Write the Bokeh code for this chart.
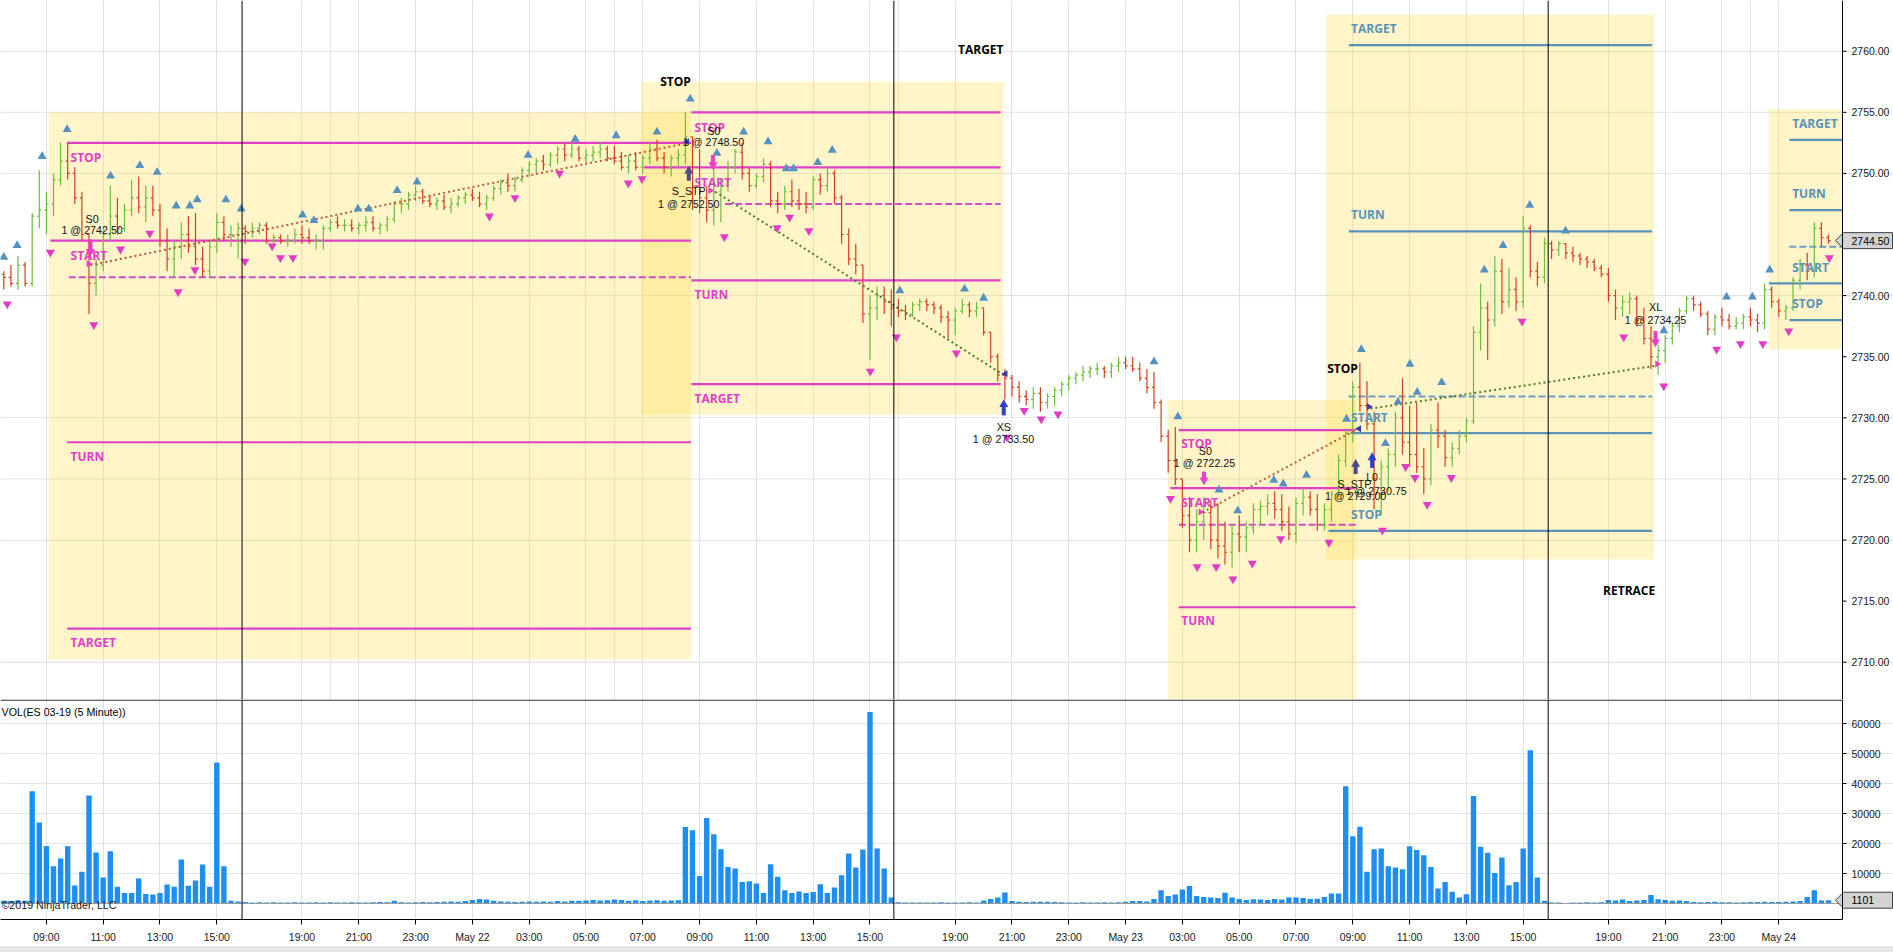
import numpy as np
from bokeh.plotting import figure
from bokeh.layouts import column
from bokeh.models import Range1d, FixedTicker, Span, ColumnDataSource, Grid, Div
from bokeh.core.properties import value
from bokeh.embed import file_html
from bokeh.resources import INLINE

# ---------------- data (x = trading hours from 09:00 May 21, session gaps removed) ----------------
TICK_H = [0, 2, 4, 6, 9, 11, 13, 15, 17, 19, 21, 23, 25, 27, 29, 32, 34, 36, 38, 40, 42, 44, 46, 48,
          50, 52, 55, 57, 59, 61]
TICK_LABELS = ["09:00", "11:00", "13:00", "15:00", "19:00", "21:00", "23:00", "May 22", "03:00",
               "05:00", "07:00", "09:00", "11:00", "13:00", "15:00", "19:00", "21:00", "23:00",
               "May 23", "03:00", "05:00", "07:00", "09:00", "11:00", "13:00", "15:00", "19:00",
               "21:00", "23:00", "May 24"]
SESSION_BREAKS = [6.89, 29.84, 52.88]
PRICE_TICKS = [2710, 2715, 2720, 2725, 2730, 2735, 2740, 2745, 2750, 2755, 2760]
PRICE_GRID = [2710, 2725, 2740, 2755]
VOL_TICKS = [10000, 20000, 30000, 40000, 50000, 60000]
VOL_GRID = [30000, 60000]

BAR_START_H = -1.5
BAR_STEP_H = 0.25
FIRST_OPEN = 2741.75
BAR_HIGH = [
    2742.0, 2742.5, 2743.25, 2742.75, 2746.75, 2750.25, 2748.5, 2750.0, 2752.5, 2752.5,
    2750.5, 2748.5, 2745.0, 2743.0, 2745.5, 2749.0, 2748.0, 2747.5, 2749.5, 2749.75,
    2749.0, 2749.0, 2747.5, 2745.5, 2744.5, 2746.0, 2746.5, 2746.75, 2744.0, 2744.5,
    2746.75, 2746.5, 2745.75, 2746.0, 2745.75, 2746.0, 2746.0, 2746.0, 2745.0, 2745.0,
    2745.0, 2745.5, 2745.75, 2745.5, 2745.0, 2745.75, 2746.25, 2746.5, 2746.25, 2746.25,
    2746.0, 2746.5, 2746.5, 2746.0, 2746.5, 2747.75, 2748.0, 2748.5, 2749.0, 2748.75,
    2748.25, 2748.0, 2748.25, 2748.0, 2748.25, 2748.5, 2748.75, 2748.5, 2748.25, 2749.0,
    2749.5, 2750.0, 2749.75, 2750.5, 2751.0, 2751.25, 2751.5, 2751.75, 2752.25, 2752.5,
    2752.5, 2752.25, 2752.0, 2752.25, 2752.5, 2752.25, 2752.25, 2751.75, 2751.5, 2751.75,
    2751.5, 2752.5, 2752.75, 2751.75, 2751.5, 2752.0, 2755.0, 2753.0, 2752.0, 2749.0,
    2751.0, 2749.5, 2751.0, 2752.0, 2752.5, 2750.5, 2750.0, 2751.25, 2751.0, 2748.5,
    2749.0, 2749.5, 2748.75, 2748.5, 2749.75, 2750.0, 2750.5, 2750.25, 2748.25, 2745.5,
    2744.25, 2741.5, 2740.0, 2740.75, 2740.75, 2740.5, 2739.75, 2739.25, 2739.5, 2739.75,
    2739.75, 2739.5, 2739.25, 2738.75, 2739.0, 2739.75, 2739.5, 2739.5, 2739.0, 2737.0,
    2735.25, 2734.0, 2733.5, 2733.0, 2732.25, 2732.5, 2732.5, 2732.0, 2732.5, 2733.0,
    2733.5, 2733.75, 2734.25, 2734.25, 2734.5, 2734.25, 2734.5, 2735.0, 2735.0, 2735.0,
    2734.5, 2734.0, 2733.75, 2731.5, 2729.0, 2729.25, 2725.0, 2723.5, 2722.5, 2723.5,
    2723.25, 2723.0, 2721.5, 2721.25, 2722.0, 2721.5, 2723.0, 2723.25, 2723.75, 2724.0,
    2723.75, 2722.75, 2723.5, 2724.25, 2724.0, 2723.75, 2723.0, 2724.0, 2727.0, 2729.0,
    2733.0, 2734.5, 2733.0, 2730.5, 2726.5, 2727.5, 2730.5, 2733.25, 2731.0, 2731.25,
    2727.5, 2729.5, 2731.25, 2729.0, 2728.0, 2729.0, 2730.0, 2737.5, 2741.0, 2739.5,
    2743.25, 2743.0, 2742.25, 2741.5, 2746.5, 2745.75, 2742.75, 2744.75, 2744.5, 2744.5,
    2744.25, 2744.0, 2743.5, 2743.25, 2743.0, 2742.5, 2742.25, 2740.5, 2740.0, 2740.25,
    2740.0, 2739.0, 2737.5, 2736.0, 2736.75, 2737.75, 2739.0, 2740.0, 2740.0, 2739.5,
    2738.75, 2738.5, 2739.0, 2738.5, 2738.25, 2738.5, 2739.0, 2738.5, 2741.0, 2740.75,
    2739.75, 2739.25, 2741.5, 2743.0, 2743.5, 2746.0, 2746.0, 2745.0]
BAR_LOW = [
    2740.5, 2740.75, 2740.5, 2740.75, 2740.75, 2745.5, 2745.0, 2746.5, 2749.0, 2749.5,
    2747.5, 2744.5, 2738.5, 2740.0, 2742.0, 2744.5, 2745.0, 2745.25, 2746.5, 2746.75,
    2746.0, 2746.5, 2744.0, 2742.0, 2741.5, 2743.0, 2743.5, 2742.5, 2741.5, 2741.5,
    2743.5, 2744.5, 2744.0, 2743.0, 2744.25, 2744.75, 2745.0, 2744.25, 2744.25, 2744.25,
    2744.0, 2744.25, 2744.25, 2744.25, 2743.75, 2743.75, 2745.25, 2745.5, 2745.25, 2745.25,
    2745.0, 2745.25, 2745.25, 2745.0, 2745.25, 2746.0, 2746.75, 2747.0, 2747.75, 2747.5,
    2747.25, 2747.0, 2747.0, 2746.75, 2747.25, 2747.5, 2747.75, 2747.25, 2747.0, 2747.75,
    2748.25, 2748.5, 2748.5, 2749.25, 2749.75, 2750.0, 2750.25, 2750.5, 2750.75, 2751.0,
    2751.25, 2751.0, 2750.75, 2751.0, 2751.25, 2751.0, 2750.75, 2750.25, 2750.0, 2750.25,
    2750.0, 2750.75, 2751.0, 2750.0, 2749.75, 2750.5, 2750.75, 2747.0, 2746.75, 2746.0,
    2745.75, 2746.0, 2748.5, 2750.0, 2749.5, 2748.5, 2748.75, 2749.25, 2747.25, 2746.75,
    2747.0, 2747.25, 2747.0, 2746.75, 2747.0, 2748.25, 2748.5, 2747.5, 2744.25, 2742.5,
    2741.75, 2737.75, 2734.75, 2738.0, 2738.5, 2737.5, 2738.25, 2738.0, 2738.25, 2738.75,
    2738.75, 2738.5, 2737.75, 2736.5, 2736.75, 2738.5, 2738.25, 2738.25, 2736.75, 2734.5,
    2733.0, 2731.5, 2731.75, 2731.25, 2731.0, 2730.75, 2730.5, 2730.75, 2731.0, 2731.75,
    2732.25, 2732.75, 2733.0, 2733.25, 2733.5, 2733.25, 2733.25, 2733.75, 2734.0, 2733.75,
    2733.0, 2732.0, 2730.75, 2728.0, 2725.5, 2724.5, 2721.0, 2719.0, 2719.0, 2720.0,
    2719.25, 2718.5, 2718.0, 2717.75, 2719.0, 2719.0, 2720.5, 2721.25, 2722.0, 2721.75,
    2720.75, 2720.0, 2719.75, 2722.0, 2722.0, 2720.75, 2720.75, 2721.5, 2723.5, 2726.0,
    2728.0, 2730.5, 2729.0, 2722.5, 2722.0, 2724.0, 2726.0, 2727.0, 2726.0, 2725.5,
    2723.75, 2724.5, 2727.5, 2726.0, 2726.0, 2727.0, 2728.0, 2729.5, 2735.5, 2734.75,
    2737.5, 2738.5, 2739.0, 2738.75, 2739.0, 2741.5, 2740.75, 2741.0, 2743.0, 2743.25,
    2743.0, 2742.75, 2742.5, 2742.25, 2742.0, 2741.5, 2739.5, 2738.0, 2738.25, 2738.5,
    2737.5, 2736.0, 2734.0, 2733.5, 2734.5, 2736.0, 2737.0, 2738.5, 2738.75, 2738.25,
    2736.75, 2736.75, 2737.5, 2737.25, 2737.25, 2737.25, 2737.5, 2737.0, 2737.25, 2739.0,
    2738.25, 2738.0, 2738.75, 2740.5, 2741.25, 2741.5, 2744.0, 2744.25]
BAR_CLOSE = [
    2741.5, 2741.0, 2742.5, 2741.0, 2746.5, 2747.0, 2747.5, 2749.5, 2751.0, 2750.0,
    2748.0, 2745.0, 2741.0, 2742.5, 2745.0, 2746.5, 2745.5, 2747.0, 2748.0, 2747.25,
    2748.0, 2747.0, 2744.5, 2743.0, 2744.0, 2745.0, 2744.0, 2743.0, 2742.0, 2744.0,
    2746.0, 2745.0, 2745.0, 2745.5, 2745.25, 2745.5, 2745.75, 2744.5, 2744.75, 2744.5,
    2744.5, 2745.0, 2744.75, 2744.5, 2744.5, 2745.5, 2746.0, 2745.75, 2745.75, 2745.5,
    2745.75, 2746.0, 2745.5, 2745.75, 2746.25, 2747.5, 2747.5, 2748.25, 2748.5, 2747.75,
    2747.5, 2747.75, 2747.25, 2747.5, 2748.0, 2748.25, 2748.0, 2747.5, 2748.0, 2748.75,
    2749.25, 2749.0, 2749.5, 2750.25, 2750.75, 2751.0, 2750.75, 2751.5, 2752.0, 2751.5,
    2752.0, 2751.25, 2751.5, 2751.75, 2752.0, 2751.25, 2751.0, 2750.5, 2751.0, 2750.5,
    2751.25, 2752.0, 2751.25, 2750.5, 2751.25, 2751.5, 2753.0, 2749.0, 2748.0, 2747.0,
    2748.5, 2749.0, 2750.5, 2751.75, 2750.0, 2749.0, 2749.75, 2750.75, 2747.75, 2747.5,
    2748.5, 2747.75, 2747.5, 2747.25, 2749.5, 2749.0, 2750.0, 2748.0, 2745.0, 2743.0,
    2742.5, 2738.5, 2739.0, 2740.0, 2739.5, 2739.0, 2738.75, 2738.5, 2739.25, 2739.5,
    2739.25, 2739.0, 2738.25, 2738.0, 2738.75, 2739.25, 2738.75, 2739.0, 2737.0, 2735.0,
    2733.5, 2733.25, 2732.5, 2731.75, 2731.5, 2732.0, 2731.25, 2731.75, 2732.25, 2732.75,
    2733.25, 2733.5, 2733.75, 2734.0, 2734.0, 2733.75, 2734.25, 2734.5, 2734.25, 2734.0,
    2733.25, 2732.5, 2731.25, 2728.5, 2726.5, 2725.0, 2722.0, 2720.0, 2721.5, 2722.25,
    2720.0, 2719.5, 2719.0, 2720.5, 2720.25, 2721.0, 2722.5, 2722.75, 2723.0, 2722.5,
    2721.5, 2720.5, 2723.0, 2723.5, 2722.5, 2721.25, 2722.5, 2723.75, 2726.5, 2728.75,
    2732.5, 2731.0, 2729.5, 2725.0, 2726.0, 2727.0, 2730.0, 2728.0, 2727.0, 2726.0,
    2725.0, 2729.0, 2728.5, 2726.75, 2727.5, 2728.5, 2729.75, 2737.0, 2739.0, 2738.0,
    2742.0, 2739.5, 2740.5, 2739.5, 2745.5, 2742.0, 2741.5, 2744.25, 2743.75, 2744.25,
    2743.5, 2743.25, 2743.0, 2742.75, 2742.25, 2741.75, 2740.0, 2739.0, 2739.5, 2739.75,
    2738.0, 2736.5, 2735.0, 2735.5, 2736.5, 2737.5, 2738.75, 2739.75, 2739.25, 2738.5,
    2737.25, 2738.25, 2738.0, 2737.5, 2737.75, 2738.25, 2738.0, 2737.75, 2740.5, 2739.5,
    2738.75, 2739.0, 2741.25, 2742.5, 2742.0, 2745.5, 2744.75, 2744.5]
VOLUME = [
    900, 800, 1100, 900, 37400, 27000, 19200, 12400, 15000, 19100,
    6000, 10600, 36000, 17000, 8700, 17400, 5600, 3500, 3500, 8300,
    3200, 3000, 3500, 6300, 5600, 14700, 5900, 7700, 13000, 5600,
    47000, 12400, 900, 700, 500, 300, 400, 300, 400, 300,
    300, 400, 300, 300, 400, 300, 400, 300, 300, 400,
    300, 300, 400, 500, 400, 900, 400, 300, 400, 500,
    400, 500, 600, 700, 600, 800, 1200, 1500, 1300, 900,
    700, 600, 500, 600, 700, 600, 700, 600, 800, 700,
    900, 900, 1000, 1200, 1000, 1100, 1300, 1200, 900, 1100,
    800, 1000, 1100, 900, 1000, 1100, 25500, 24400, 9200, 28500,
    23100, 18100, 12200, 11700, 7200, 7400, 6700, 3500, 13100, 8900,
    4400, 3500, 4000, 3500, 3800, 6400, 3500, 5300, 9400, 16700,
    12000, 18000, 63800, 18300, 11700, 2000, 400, 300, 300, 300,
    300, 300, 400, 300, 300, 300, 400, 300, 1000, 1500,
    2000, 3700, 800, 600, 500, 600, 600, 600, 500, 400,
    300, 300, 400, 300, 300, 400, 300, 400, 600, 800,
    800, 700, 1500, 4400, 2500, 3000, 4700, 5800, 2500, 2200,
    2000, 1800, 3600, 2000, 1500, 1200, 1400, 1300, 1200, 1500,
    1300, 2000, 2000, 1800, 1500, 1600, 2200, 3300, 3300, 39100,
    22400, 25600, 10600, 18100, 18300, 12400, 12000, 11400, 19100, 17800,
    16100, 12200, 5000, 7200, 3900, 2000, 3100, 35800, 18900, 16900,
    10200, 15300, 6100, 7200, 18300, 51100, 8700, 900, 300, 300,
    200, 300, 300, 400, 300, 400, 1200, 1000, 1300, 800,
    1000, 1200, 2800, 1400, 1200, 900, 1000, 800, 500, 400,
    500, 600, 400, 400, 300, 400, 500, 500, 600, 500,
    500, 600, 700, 800, 2200, 4400, 1000, 1101]
LAST_PRICE = 2744.50
LAST_VOLUME = 1101

# yellow trade zones
ZONE_LEFT = [0.08, 20.95, 39.49, 45.06, 60.65]
ZONE_RIGHT = [22.70, 33.70, 46.12, 56.62, 70.0]
ZONE_BOTTOM = [2710.2, 2730.25, 2700.0, 2718.4, 2735.6]
ZONE_TOP = [2755.0, 2757.5, 2731.45, 2763.0, 2755.25]

# level lines of each zone (zones 1-3 short setups, 4-5 long setups)
LEVEL_ZONE = [1, 1, 1, 1, 1, 2, 2, 2, 2, 2, 3, 3, 3, 3, 4, 4, 4, 4, 4, 5, 5, 5, 5, 5]
LEVEL_NAME = ["STOP", "START", "MID", "TURN", "TARGET",
              "STOP", "START", "MID", "TURN", "TARGET",
              "STOP", "START", "MID", "TURN",
              "TARGET", "TURN", "MID", "START", "STOP",
              "TARGET", "TURN", "MID", "START", "STOP"]
LEVEL_PRICE = [2752.5, 2744.5, 2741.5, 2728.0, 2712.75,
               2755.0, 2750.5, 2747.5, 2741.25, 2732.75,
               2729.0, 2724.25, 2721.25, 2714.5,
               2760.5, 2745.25, 2731.75, 2728.75, 2720.75,
               2752.75, 2747.0, 2744.0, 2741.0, 2738.0]
LEVEL_FROM_H = [0.73, 0.14, 0.79, 0.73, 0.73,
                22.71, 21.04, 23.9, 22.71, 22.71,
                39.87, 39.58, 39.87, 39.87,
                45.86, 45.86, 45.85, 45.92, 45.15,
                61.37, 61.37, 61.37, 60.65, 61.37]
LEVEL_TO_H = [22.70] * 5 + [33.6] * 5 + [46.1] * 4 + [56.54] * 5 + [70.0] * 5

LABEL_TEXT = ["STOP", "START", "TURN", "TARGET",
              "STOP", "START", "TURN", "TARGET",
              "STOP", "START", "TURN",
              "TARGET", "TURN", "START", "STOP",
              "TARGET", "TURN", "START", "STOP"]
LABEL_ZONE = [1, 1, 1, 1, 2, 2, 2, 2, 3, 3, 3, 4, 4, 4, 4, 5, 5, 5, 5]
LABEL_H = [0.85] * 4 + [22.82] * 4 + [39.96] * 3 + [45.94] * 4 + [61.47] * 4
LABEL_P = [2751.33, 2743.28, 2726.8, 2711.6,
           2753.78, 2749.28, 2740.1, 2731.6,
           2727.87, 2723.1, 2713.4,
           2761.83, 2746.6, 2730.05, 2722.1,
           2754.06, 2748.33, 2742.33, 2739.33]

NOTE_TEXT = ["STOP", "TARGET", "STOP", "RETRACE"]
NOTE_H = [22.15, 32.9, 45.64, 55.73]
NOTE_P = [2757.5, 2760.1, 2734.07, 2715.84]

TRADE_TEXT = ["S0", "1 @ 2742.50", "S0", "1 @ 2748.50", "S_STP", "1 @ 2752.50", "XS", "1 @ 2733.50",
              "S0", "1 @ 2722.25", "S_STP", "1 @ 2729.00", "L0", "1 @ 2730.75", "XL", "1 @ 2734.25"]
TRADE_H = [1.61, 1.61, 23.5, 23.49, 22.62, 22.62, 33.71, 33.7,
           40.81, 40.78, 46.06, 46.1, 46.68, 46.82, 56.66, 56.66]
TRADE_P = [2746.28, 2745.33, 2753.5, 2752.55, 2748.6, 2747.5, 2729.23, 2728.28,
           2727.32, 2726.32, 2724.6, 2723.6, 2725.15, 2724.05, 2739.1, 2738.0]

# dotted entry->exit connectors (loss = red, win = green)
LINK_H0 = [1.55, 23.55, 40.7, 46.62]
LINK_P0 = [2742.5, 2748.5, 2722.25, 2730.75]
LINK_H1 = [22.62, 33.71, 46.1, 56.66]
LINK_P1 = [2752.5, 2733.5, 2729.0, 2734.25]
LINK_WIN = [False, True, False, True]

# execution arrows
ARROW_H = [1.55, 22.62, 23.47, 33.71, 40.76, 46.1, 46.68, 56.66]
ARROW_TAIL = [2744.6, 2749.4, 2751.5, 2730.2, 2725.6, 2725.4, 2725.9, 2737.1]
ARROW_TIP = [2743.3, 2750.5, 2750.4, 2731.4, 2724.6, 2726.5, 2727.05, 2735.9]
ARROW_KIND = ["sell", "stop", "sell", "buy", "sell", "stop", "buy", "sell"]

# small execution markers
MARK_H = [1.49, 23.38, 22.56, 33.77, 40.64, 46.22, 46.57, 56.72]
MARK_P = [2742.6, 2748.6, 2752.6, 2733.6, 2722.3, 2729.1, 2730.9, 2734.4]
MARK_RIGHT = [True, True, False, False, True, False, True, True]
MARK_KIND = ["sell", "sell", "buy", "buy", "sell", "buy", "buy", "sell"]

SWING_HIGH_H = [-1.5, -1.03, -0.15, 0.73, 2.26, 3.29, 3.9, 4.57, 5.05, 5.31, 6.32, 6.86, 9.02, 9.42,
                10.97, 11.35, 12.35, 13.05, 16.96, 18.62, 20.06, 21.5, 22.67, 23.61, 24.55, 25.41,
                26.05, 26.31, 27.16, 27.67, 30.05, 32.33, 33.0, 39.0, 39.84, 41.29, 41.95, 43.22,
                43.55, 44.37, 45.78, 46.3, 47.15, 47.59, 48.01, 48.27, 49.13, 50.63, 51.29, 52.23,
                53.49, 56.95, 59.16, 60.07, 60.68]
SWING_HIGH_P = [2743.15, 2744.1, 2751.4, 2753.6, 2749.8, 2750.65, 2750.1, 2747.35, 2747.35, 2747.85,
                2747.85, 2747.1, 2746.6, 2746.15, 2747.1, 2747.1, 2748.6, 2749.3, 2751.5, 2752.8,
                2753.1, 2753.4, 2756.1, 2751.66, 2753.4, 2752.6, 2750.4, 2750.4, 2750.9, 2751.9,
                2740.4, 2740.55, 2739.8, 2734.6, 2730.1, 2724.1, 2722.4, 2724.9, 2724.6, 2725.3,
                2729.9, 2735.6, 2727.9, 2731.3, 2734.4, 2732.1, 2732.9, 2742.1, 2744.1, 2747.4,
                2745.3, 2737.14, 2739.9, 2739.9, 2742.1]
SWING_LOW_H = [-1.38, 0.14, 1.67, 2.61, 3.64, 4.64, 5.23, 6.99, 7.95, 8.24, 8.68, 15.6, 16.5, 18.07,
               20.49, 20.97, 23.87, 25.73, 26.17, 26.85, 29.01, 29.93, 32.04, 33.82, 34.43, 35.03,
               35.62, 39.58, 40.52, 41.19, 41.78, 42.46, 43.46, 45.16, 47.04, 47.86, 48.19, 48.62,
               49.47, 51.96, 55.54, 56.95, 58.81, 59.65, 60.44, 61.35, 62.78]
SWING_LOW_P = [2739.3, 2743.55, 2737.6, 2743.8, 2745.1, 2740.3, 2742.1, 2742.8, 2744.05, 2743.1,
               2743.1, 2746.5, 2748.0, 2750.0, 2749.2, 2749.56, 2744.8, 2745.55, 2746.4, 2745.3,
               2733.8, 2736.6, 2735.3, 2728.4, 2730.6, 2729.9, 2730.3, 2723.4, 2717.8, 2717.8,
               2716.8, 2718.1, 2720.1, 2719.8, 2720.8, 2726.0, 2725.1, 2722.9, 2725.1, 2737.9,
               2736.6, 2732.6, 2735.6, 2736.05, 2736.05, 2737.1, 2743.1]

# ---------------- styles / geometry ----------------
FONT = "Liberation Sans"
BOLD_FONT = "Open Sans"
GRID = "#E2E2E2"
MAGENTA = "#E040C8"
MAGENTA_DASH = "#CC4FC8"
BLUE = "#5A92B8"
BLUE_DASH = "#6A9EC2"
ZONE_FILL = "#FFDA36"
UP = "#6CBE3A"
DOWN = "#D2401E"
TRI_BLUE = "#5592C0"
TRI_MAG = "#E23CC6"
ARROW_COL = {"sell": "#EC3FC9", "stop": "#4B4B8C", "buy": "#2F3FD0"}
VOL_COL = "#1E8FF0"
MARKER_FILL = "#D3D3D3"

PX_H = 28.4                       # pixels per trading hour
X_START = -1.616
AXIS_H = X_START + 1842 / PX_H    # position of the right price/volume axis line
X_END = X_START + 1893 / PX_H
P_LO, P_HI = 2706.95, 2764.15
PX_P = 699 / (P_HI - P_LO)        # pixels per price point
V_LO, V_HI = -5333.0, 68000.0
PX_V = 220 / (V_HI - V_LO)        # pixels per contract


def hx(px):
    return px / PX_H


# ---------------- price panel ----------------
p = figure(frame_width=1893, frame_height=699, x_range=Range1d(X_START, X_END),
           y_range=Range1d(P_LO, P_HI), output_backend="svg", toolbar_location=None,
           tools="", title=None, x_axis_location=None, y_axis_location=None,
           min_border_left=0, min_border_right=0, min_border_top=0, min_border_bottom=0,
           background_fill_color="white", border_fill_color="white", outline_line_color=None)
p.add_layout(Grid(dimension=0, ticker=FixedTicker(ticks=TICK_H), grid_line_color=GRID))
p.segment(x0=[X_START] * len(PRICE_GRID), y0=PRICE_GRID, x1=[AXIS_H] * len(PRICE_GRID),
          y1=PRICE_GRID, line_color=GRID, line_width=1)

# zones clipped at the axis line
zr = [min(r, AXIS_H) for r in ZONE_RIGHT]
p.quad(left=ZONE_LEFT, right=zr, bottom=ZONE_BOTTOM, top=ZONE_TOP,
       fill_color=ZONE_FILL, fill_alpha=0.27, line_color=None)

for h in SESSION_BREAKS:
    p.add_layout(Span(location=h, dimension="height", line_color="black", line_width=1))

# levels
solid = dict(x0=[], x1=[], y=[], c=[])
dashed = dict(x0=[], x1=[], y=[], c=[])
for z, nm, pr, a, b in zip(LEVEL_ZONE, LEVEL_NAME, LEVEL_PRICE, LEVEL_FROM_H, LEVEL_TO_H):
    tgt = dashed if nm == "MID" else solid
    tgt["x0"].append(a)
    tgt["x1"].append(min(b, AXIS_H))
    tgt["y"].append(pr)
    if nm == "MID":
        tgt["c"].append(MAGENTA_DASH if z <= 3 else BLUE_DASH)
    else:
        tgt["c"].append(MAGENTA if z <= 3 else BLUE)
p.segment(x0="x0", y0="y", x1="x1", y1="y", line_color="c", line_width=2.2,
          source=ColumnDataSource(solid))
p.segment(x0="x0", y0="y", x1="x1", y1="y", line_color="c", line_width=2,
          line_dash="7 3", source=ColumnDataSource(dashed))

# price bars
n = min(len(BAR_HIGH), len(BAR_LOW), len(BAR_CLOSE))
closes = np.array(BAR_CLOSE[:n], dtype=float)
opens = np.r_[FIRST_OPEN, closes[:-1]]
highs = np.maximum(np.array(BAR_HIGH[:n], dtype=float), np.maximum(opens, closes))
lows = np.minimum(np.array(BAR_LOW[:n], dtype=float), np.minimum(opens, closes))
xs = BAR_START_H + BAR_STEP_H * np.arange(n)
cols = np.where(closes >= opens, UP, DOWN)
bars = ColumnDataSource(dict(x=xs, xl=xs - 0.075, xr=xs + 0.075, o=opens, h=highs, l=lows,
                             c=closes, barcolor=cols))
p.segment(x0="x", y0="h", x1="x", y1="l", line_color="barcolor", line_width=1.2, source=bars)
p.segment(x0="xl", y0="o", x1="x", y1="o", line_color="barcolor", line_width=1.2, source=bars)
p.segment(x0="x", y0="c", x1="xr", y1="c", line_color="barcolor", line_width=1.2, source=bars)

# dotted connectors
link_cols = ["#4E7C26" if w else "#BB5A3A" for w in LINK_WIN]
p.segment(x0=LINK_H0, y0=LINK_P0, x1=LINK_H1, y1=LINK_P1, line_color=link_cols,
          line_width=2, line_dash="2 3")

# swing markers
p.scatter(SWING_HIGH_H, SWING_HIGH_P, marker="triangle", size=9, fill_color=TRI_BLUE,
          line_color=None)
p.scatter(SWING_LOW_H, SWING_LOW_P, marker="inverted_triangle", size=9, fill_color=TRI_MAG,
          line_color=None)

# execution markers
mk_cols = [ARROW_COL["sell"] if k == "sell" else "#3A3AA8" for k in MARK_KIND]
mk_ang = [-np.pi / 2 if r else np.pi / 2 for r in MARK_RIGHT]
p.scatter(MARK_H, MARK_P, marker="triangle", size=7, angle=mk_ang, fill_color=mk_cols,
          line_color=None)

# arrows
for h, tail, tip, kind in zip(ARROW_H, ARROW_TAIL, ARROW_TIP, ARROW_KIND):
    d = 1 if tip > tail else -1
    c = ARROW_COL[kind]
    p.segment(x0=[h], y0=[tail], x1=[h], y1=[tip - d * 0.35], line_color=c, line_width=4)
    p.scatter([h], [tip - d * 0.3], marker="triangle" if d > 0 else "inverted_triangle",
              size=9, fill_color=c, line_color=None)

# level labels
lab_cols = [MAGENTA if z <= 3 else BLUE for z in LABEL_ZONE]
p.text(LABEL_H, LABEL_P, text=LABEL_TEXT, text_color=lab_cols, text_font=value(BOLD_FONT),
       text_font_style="bold", text_font_size="12px", text_align="left",
       text_baseline="middle")
p.text(NOTE_H, NOTE_P, text=NOTE_TEXT, text_color="black", text_font=value(BOLD_FONT),
       text_font_style="bold", text_font_size="12px", text_align="center",
       text_baseline="middle")
p.text(TRADE_H, TRADE_P, text=TRADE_TEXT, text_color="#111111", text_font=value(FONT),
       text_font_size="10.7px", text_align="center", text_baseline="middle")

# right price axis (drawn in data space so the last-price marker can sit on it)
p.add_layout(Span(location=AXIS_H, dimension="height", line_color="black", line_width=1))
p.segment(x0=[AXIS_H] * len(PRICE_TICKS), y0=PRICE_TICKS,
          x1=[AXIS_H + hx(4)] * len(PRICE_TICKS), y1=PRICE_TICKS, line_color="black")
shown_ticks = [t for t in PRICE_TICKS if abs(t - LAST_PRICE) > 0.9]
p.text([AXIS_H + hx(9)] * len(shown_ticks), shown_ticks,
       text=[f"{t:.2f}" for t in shown_ticks], text_font=value(FONT), text_font_size="10.5px",
       text_color="#1a1a1a", text_align="left", text_baseline="middle")
hp = 8 / PX_P
p.patch([AXIS_H - hx(7), AXIS_H + hx(1), X_END - hx(1), X_END - hx(1), AXIS_H + hx(1)],
        [LAST_PRICE, LAST_PRICE + hp, LAST_PRICE + hp, LAST_PRICE - hp, LAST_PRICE - hp],
        fill_color=MARKER_FILL, line_color="#404040", line_width=1)
p.text([AXIS_H + hx(9)], [LAST_PRICE], text=[f"{LAST_PRICE:.2f}"], text_font=value(FONT),
       text_font_size="10.5px", text_color="black", text_align="left", text_baseline="middle")

# ---------------- volume panel ----------------
v = figure(frame_width=1893, frame_height=220, x_range=p.x_range, y_range=Range1d(V_LO, V_HI),
           output_backend="svg", toolbar_location=None, tools="", title=None,
           x_axis_location="below", y_axis_location=None,
           min_border_left=0, min_border_right=0, min_border_top=0, min_border_bottom=27,
           background_fill_color="white", border_fill_color="white", outline_line_color=None)
v.xgrid.visible = False
v.add_layout(Grid(dimension=0, ticker=FixedTicker(ticks=TICK_H), grid_line_color=GRID))
v.segment(x0=[X_START] * len(VOL_GRID), y0=VOL_GRID, x1=[AXIS_H] * len(VOL_GRID), y1=VOL_GRID,
          line_color=GRID, line_width=1)

vx = v.xaxis[0]
vx.ticker = FixedTicker(ticks=TICK_H)
vx.major_label_overrides = {h: lbl for h, lbl in zip(TICK_H, TICK_LABELS)}
vx.bounds = (X_START, AXIS_H)
vx.major_label_text_font = FONT
vx.major_label_text_font_size = "10.5px"
vx.major_label_text_color = "#1a1a1a"
vx.major_tick_out = 5
vx.major_tick_in = 0
vx.minor_tick_out = 0
vx.minor_tick_in = 0
vx.axis_line_color = "black"
vx.major_tick_line_color = "black"
vx.major_label_standoff = 6

for h in SESSION_BREAKS:
    v.add_layout(Span(location=h, dimension="height", line_color="black", line_width=1))

nv = min(len(VOLUME), n)
v.vbar(x=xs[:nv], top=VOLUME[:nv], bottom=0, width=0.19, fill_color=VOL_COL, line_color=None)
v.segment(x0=[X_START], y0=[0], x1=[AXIS_H], y1=[0], line_color="#9A9A9A", line_width=1)
# panel separator (top border of the volume panel)
v.segment(x0=[X_START], y0=[V_HI - 0.6 / PX_V], x1=[AXIS_H], y1=[V_HI - 0.6 / PX_V],
          line_color="black", line_width=1)

v.text([X_START + hx(1)], [63900], text=["VOL(ES 03-19 (5 Minute))"], text_font=value(FONT),
       text_font_size="10.7px", text_color="black", text_align="left", text_baseline="middle")
v.text([X_START + hx(1)], [-600], text=["\u00a92019 NinjaTrader, LLC"], text_font=value(FONT),
       text_font_size="10.7px", text_color="#222222", text_align="left",
       text_baseline="middle")

# right volume axis
v.add_layout(Span(location=AXIS_H, dimension="height", line_color="black", line_width=1))
v.segment(x0=[AXIS_H] * len(VOL_TICKS), y0=VOL_TICKS, x1=[AXIS_H + hx(4)] * len(VOL_TICKS),
          y1=VOL_TICKS, line_color="black")
v.text([AXIS_H + hx(9)] * len(VOL_TICKS), VOL_TICKS, text=[str(t) for t in VOL_TICKS],
       text_font=value(FONT), text_font_size="10.5px", text_color="#1a1a1a",
       text_align="left", text_baseline="middle")
hv = 8 / PX_V
v.patch([AXIS_H - hx(7), AXIS_H + hx(1), X_END - hx(1), X_END - hx(1), AXIS_H + hx(1)],
        [LAST_VOLUME, LAST_VOLUME + hv, LAST_VOLUME + hv, LAST_VOLUME - hv, LAST_VOLUME - hv],
        fill_color=MARKER_FILL, line_color="#404040", line_width=1)
v.text([AXIS_H + hx(9)], [LAST_VOLUME], text=[str(LAST_VOLUME)], text_font=value(FONT),
       text_font_size="10.5px", text_color="black", text_align="left", text_baseline="middle")

# horizontal scroll strip under the time axis
strip = Div(text="", width=1893, height=6, margin=0,
            styles={"background-color": "#E6E6E6"})

layout = column(p, v, strip, spacing=0)
open("out.html", "w").write(file_html(layout, INLINE))
